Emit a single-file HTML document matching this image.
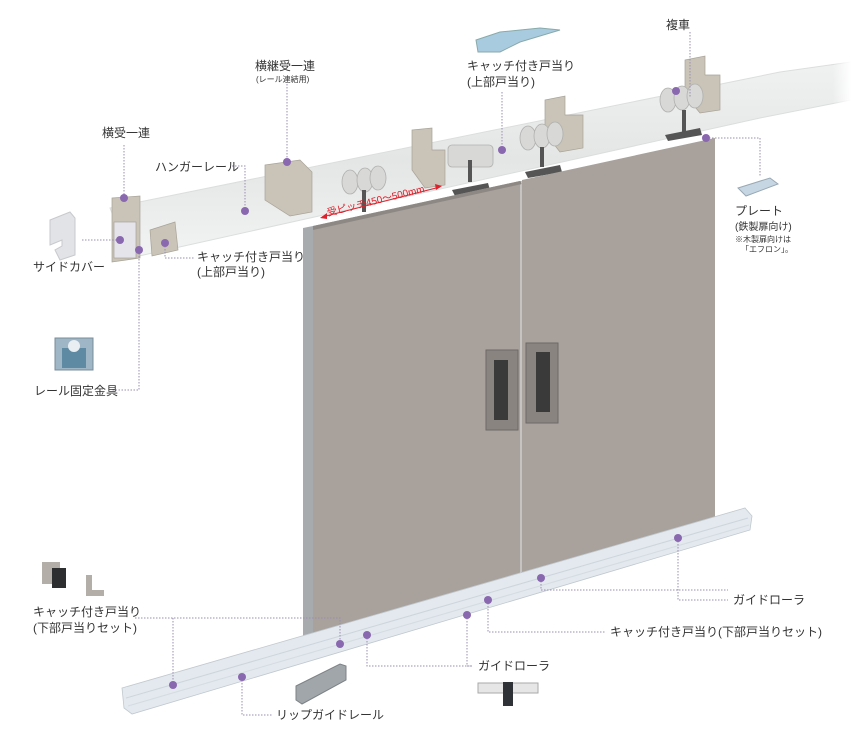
<!DOCTYPE html>
<html><head><meta charset="utf-8"><style>
html,body{margin:0;padding:0;background:#fff;}
svg{display:block;font-family:"Liberation Sans","Noto Sans CJK JP",sans-serif;}
.t{font-size:12px;fill:#333;}
.s{font-size:10px;fill:#333;}
.x{font-size:8px;fill:#333;}
.l{stroke:#9a8fb0;stroke-width:1;stroke-dasharray:1.5 1.5;fill:none;}
.d{fill:#8a68b0;}
</style></head><body>
<svg width="851" height="738" viewBox="0 0 851 738" xmlns="http://www.w3.org/2000/svg">
<defs>
<linearGradient id="rail" x1="0" y1="0" x2="0" y2="1">
<stop offset="0" stop-color="#f0f1f1"/><stop offset="0.5" stop-color="#e4e6e6"/><stop offset="1" stop-color="#f2f3f3"/></linearGradient>
<linearGradient id="fade" x1="0" y1="0" x2="1" y2="0">
<stop offset="0.8" stop-color="#fff" stop-opacity="0"/><stop offset="1" stop-color="#fff" stop-opacity="1"/></linearGradient>
</defs>
<polygon points="110,208 780,72 851,62 851,100 760,118 130,258" fill="url(#rail)" stroke="#dcdede" stroke-width="1"/>
<polygon points="760,60 851,50 851,110 760,120" fill="url(#fade)"/>
<g fill="#c9c3b8" stroke="#a9a398" stroke-width="0.7">
<polygon points="112,198 140,196 140,258 112,262"/>
<rect x="114" y="222" width="22" height="36" fill="#e4e4ea"/>
<polygon points="150,230 175,222 178,250 152,256"/>
<polygon points="265,165 300,160 312,172 312,212 290,216 265,200"/>
<polygon points="412,130 432,128 432,150 445,150 445,185 425,188 412,170"/>
<polygon points="545,100 565,96 565,115 583,115 583,148 560,152 545,133"/>
<polygon points="685,60 705,56 705,75 720,75 720,110 700,113 685,95"/>
</g>
<g fill="#d8d8d6" stroke="#b0b0ae" stroke-width="0.8">
<ellipse cx="350" cy="182" rx="8" ry="12"/><ellipse cx="365" cy="180" rx="8" ry="12"/><ellipse cx="378" cy="178" rx="8" ry="12"/>
<rect x="448" y="145" width="45" height="22" rx="4"/>
<ellipse cx="528" cy="138" rx="8" ry="12"/><ellipse cx="542" cy="136" rx="8" ry="12"/><ellipse cx="555" cy="134" rx="8" ry="12"/>
<ellipse cx="668" cy="100" rx="8" ry="12"/><ellipse cx="682" cy="98" rx="8" ry="12"/><ellipse cx="695" cy="96" rx="8" ry="12"/>
</g>
<g fill="#555">
<rect x="362" y="190" width="4" height="22"/><rect x="468" y="160" width="4" height="22"/>
<rect x="540" y="147" width="4" height="20"/><rect x="682" y="110" width="4" height="22"/>
<polygon points="345,222 388,215 390,222 348,228"/><polygon points="452,190 488,183 490,190 455,196"/>
<polygon points="525,172 560,165 562,172 528,178"/><polygon points="665,135 700,128 702,135 668,141"/>
</g>
<polygon points="303,228 313,226 313,640 303,640" fill="#a8abad"/>
<polygon points="313,226 520,181 520,582 313,640" fill="#a8a19c"/>
<polygon points="522,180 715,138 715,530 522,582" fill="#a8a19c"/>
<line x1="521" y1="181" x2="521" y2="582" stroke="#8e8884" stroke-width="1"/>
<polygon points="313,226 520,181 522,184 313,230" fill="#8e8884"/>
<rect x="486" y="350" width="32" height="80" fill="#8a8481" stroke="#6e6966"/>
<rect x="494" y="360" width="14" height="60" fill="#3a3a3a"/>
<rect x="526" y="343" width="32" height="80" fill="#8a8481" stroke="#6e6966"/>
<rect x="536" y="352" width="14" height="60" fill="#3a3a3a"/>
<polygon points="122,688 745,508 752,516 750,530 132,714 124,708" fill="#e3e9ee" stroke="#c0c8cf" stroke-width="0.8"/>
<line x1="126" y1="698" x2="748" y2="518" stroke="#cdd5dc"/>
<line x1="128" y1="706" x2="749" y2="525" stroke="#d4dbe1"/>
<line x1="322" y1="217" x2="440" y2="187" stroke="#e0202a" stroke-width="1"/>
<polygon points="320,218 327,213 327,219" fill="#e0202a"/><polygon points="442,186 435,184 436,190" fill="#e0202a"/>
<text x="328" y="216" font-size="10" fill="#e0202a" transform="rotate(-14 328 216)">受ピッチ450～500mm</text>
<path class="l" d="M124,145 V198"/>
<path class="l" d="M232,166 H245 V211"/>
<path class="l" d="M287,84 V162"/>
<path class="l" d="M502,92 V150"/>
<path class="l" d="M690,32 V97"/>
<path class="l" d="M706,138 H760 V176"/>
<path class="l" d="M82,240 H120"/>
<path class="l" d="M139,250 V390 H112"/>
<path class="l" d="M165,243 V258 H195"/>
<path class="l" d="M678,538 V600 H728"/>
<path class="l" d="M541,578 V590 H728"/>
<path class="l" d="M488,600 V632 H605"/>
<path class="l" d="M467,615 V666 H472"/>
<path class="l" d="M367,635 V666 H472"/>
<path class="l" d="M135,618 H340 V644"/>
<path class="l" d="M173,618 V685"/>
<path class="l" d="M242,677 V715 H272"/>
<g class="d">
<circle cx="124" cy="198" r="4"/><circle cx="120" cy="240" r="4"/><circle cx="139" cy="250" r="4"/><circle cx="165" cy="243" r="4"/>
<circle cx="245" cy="211" r="4"/><circle cx="287" cy="162" r="4"/><circle cx="502" cy="150" r="4"/><circle cx="676" cy="91" r="4"/>
<circle cx="706" cy="138" r="4"/><circle cx="678" cy="538" r="4"/><circle cx="541" cy="578" r="4"/><circle cx="488" cy="600" r="4"/>
<circle cx="467" cy="615" r="4"/><circle cx="367" cy="635" r="4"/><circle cx="340" cy="644" r="4"/><circle cx="173" cy="685" r="4"/><circle cx="242" cy="677" r="4"/>
</g>
<polygon points="50,220 70,212 75,218 75,255 60,260 55,250 62,246 62,240 50,245" fill="#e2e3e6" stroke="#c8c9cc"/>
<rect x="55" y="338" width="38" height="32" fill="#9fb6c6" stroke="#7a8c99"/>
<rect x="62" y="348" width="24" height="20" fill="#5f8aa3"/>
<circle cx="74" cy="346" r="6" fill="#e8eef2"/>
<polygon points="476,40 500,32 540,28 560,30 520,42 500,52 478,52" fill="#a9cbe0" stroke="#8aa"/>
<polygon points="738,188 770,178 778,184 746,196" fill="#c6d6e2" stroke="#98a8b4"/>
<rect x="42" y="562" width="18" height="22" fill="#b4aea8"/><rect x="52" y="568" width="14" height="20" fill="#2c2e30"/>
<polygon points="86,575 92,575 92,590 104,590 104,596 86,596" fill="#b4aea8"/>
<polygon points="296,686 340,664 346,666 346,680 302,704 296,700" fill="#a0a6aa" stroke="#7c8286"/>
<rect x="478" y="683" width="60" height="10" fill="#e6e6e6" stroke="#aaa"/>
<rect x="503" y="682" width="10" height="24" fill="#2f3236"/>
<text class="t" x="666" y="29">複車</text>
<text class="t" x="467" y="70">キャッチ付き戸当り</text>
<text class="t" x="467" y="86">(上部戸当り)</text>
<text class="t" x="255" y="70">横継受一連</text>
<text class="x" x="256" y="82" font-size="9">(レール連結用)</text>
<text class="t" x="102" y="137">横受一連</text>
<text class="t" x="155" y="171">ハンガーレール</text>
<text class="t" x="197" y="261">キャッチ付き戸当り</text>
<text class="t" x="197" y="276">(上部戸当り)</text>
<text class="t" x="33" y="271">サイドカバー</text>
<text class="t" x="34" y="395">レール固定金具</text>
<text class="t" x="735" y="215">プレート</text>
<text class="s" x="735" y="230">(鉄製扉向け)</text>
<text class="x" x="735" y="242">※木製扉向けは</text>
<text class="x" x="741" y="252">「エフロン」。</text>
<text class="t" x="733" y="604">ガイドローラ</text>
<text class="t" x="610" y="636">キャッチ付き戸当り(下部戸当りセット)</text>
<text class="t" x="478" y="670">ガイドローラ</text>
<text class="t" x="276" y="719">リップガイドレール</text>
<text class="t" x="33" y="616">キャッチ付き戸当り</text>
<text class="t" x="33" y="632">(下部戸当りセット)</text>
</svg>
</body></html>
